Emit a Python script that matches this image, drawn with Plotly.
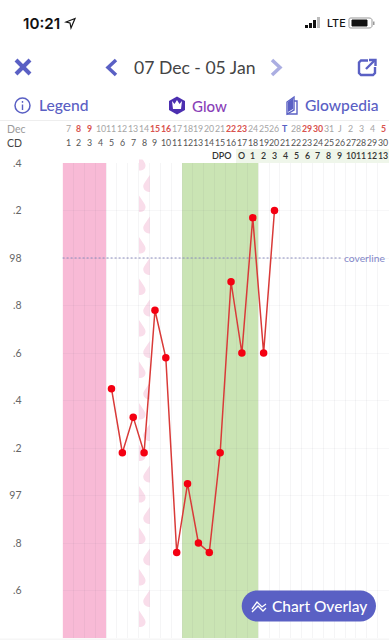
import plotly.graph_objects as go

# ---------- data ----------
cycle_days = list(range(1, 31))
date_labels = ["7","8","9","10","11","12","13","14","15","16","17","18","19","20","21","22","23","24","25","26","T","28","29","30","31","J","2","3","4","5"]
highlight_dates = ["8","9","15","16","22","23","29","30","5"]
dpo_labels = ["O","1","2","3","4","5","6","7","8","9","10","11","12","13"]
temp_days = [5,6,7,8,9,10,11,12,13,14,15,16,17,18,19,20]
temps = [97.45,97.18,97.33,97.18,97.78,97.58,96.76,97.05,96.80,96.76,97.18,97.90,97.60,98.17,97.60,98.20]
y_tickvals = [96.4,96.6,96.8,97.0,97.2,97.4,97.6,97.8,98.0,98.2,98.4]
y_ticktext = [".4",".6",".8","97",".2",".4",".6",".8","98",".2",".4"]
coverline = 98.0
period_days = (0.5, 4.5)
fertile_days = (11.5, 18.5)
spotting_day = 8
dpo_start_day = 17
title = "07 Dec - 05 Jan"

# ---------- style ----------
W, H = 389, 640
INDIGO = "#5A60C4"
FONT = "Lato, 'Open Sans', sans-serif"
X0, YTOP, YBOT = 62.6, 163, 638
def px(x): return x / W
def py(y): return 1 - y / H
def path(pts, close=True):
    s = "M" + " L".join(f"{px(a):.5f},{py(b):.5f}" for a, b in pts)
    return s + (" Z" if close else "")
def cpath(cmds):
    out = []
    for c in cmds:
        out.append(c[0] + " ".join(f"{px(c[i]):.5f},{py(c[i+1]):.5f}" for i in range(1, len(c), 2)))
    return " ".join(out) + " Z"

fig = go.Figure()
fig.add_trace(go.Scatter(x=temp_days, y=temps, mode="lines+markers", cliponaxis=False,
    line=dict(color="#D93A38", width=1.5),
    marker=dict(color="#F40012", size=7.5), hoverinfo="skip", showlegend=False))

shapes, ann = [], []
def rect(x0, y0, x1, y1, fill, layer="above"):
    shapes.append(dict(type="rect", xref="paper", yref="paper", x0=px(x0), x1=px(x1), y0=py(y0), y1=py(y1),
                       fillcolor=fill, line_width=0, layer=layer))
def shp(d, fill=None, line=None, lw=0, layer="above"):
    s = dict(type="path", xref="paper", yref="paper", path=d, layer=layer)
    s["fillcolor"] = fill if fill else "rgba(0,0,0,0)"
    s["line"] = dict(color=line if line else "rgba(0,0,0,0)", width=lw)
    shapes.append(s)
def text(x, y, t, size, color, anchor="center", weight=400, xref="paper", family=FONT):
    ann.append(dict(x=px(x) if xref == "paper" else x, y=py(y), xref=xref, yref="paper", text=t, showarrow=False,
                    xanchor=anchor, yanchor="middle", font=dict(size=size, color=color, family=family, weight=weight)))

# period + fertile bands (data coordinates)
shapes.append(dict(type="rect", xref="x", yref="paper", x0=period_days[0], x1=period_days[1],
                   y0=py(YBOT), y1=py(YTOP), fillcolor="#F8BAD6", line_width=0, layer="below"))
shapes.append(dict(type="rect", xref="x", yref="paper", x0=fertile_days[0], x1=fertile_days[1],
                   y0=py(YBOT), y1=py(YTOP), fillcolor="#CAE4B4", line_width=0, layer="below"))

# spotting column of half drops
L = 139.0; R = 149.8
for k in range(13):
    c = 160 + 41.5 * k + 2
    shp(cpath([("M", L, c-8), ("C", L+3, c-3, L+7, c+1, L+6.5, c+4), ("C", L+6, c+8, L+2, c+9, L, c+8.5)]), fill="#F9DDEA", layer="below")
    c2 = c + 22
    if c2 < 640:
        shp(cpath([("M", R, c2-9), ("C", R-3, c2-4, R-7, c2, R-6.5, c2+3), ("C", R-6, c2+7, R-2, c2+8, R, c2+8)]), fill="#F9DDEA", layer="below")

# coverline
shapes.append(dict(type="line", xref="paper", yref="y", x0=px(X0), x1=px(342), y0=coverline, y1=coverline,
                   line=dict(color="#8A8DBE", width=1, dash="2px,2px"), layer="between"))
text(388, 258, "coverline", 10.3, "#8286C8", anchor="right")

# header background + clip of top tick label
rect(0, 0, W, 159.5, "#FFFFFF")
rect(0, 120, W, 121, "#EEEEEE")
rect(236, 149, W, YTOP, "#EFF6EA")
rect(0, 638.5, W, H, "#F6F6F6")

# status bar
text(20.5, 23.5, "10:21", 15.2, "#111111", anchor="left", weight=600, family="Inter, sans-serif")
shp(path([(66,22),(75,18.5),(71,28),(70,23)]), line="#111111", lw=1.2)
for i, (hh, col) in enumerate(zip([3,5,8,11], ["#111","#111","#111","#BBB"])):
    rect(305+i*4.0, 28-hh, 308+i*4.0, 28, col)
text(324.5, 23.5, "LTE", 10.8, "#111111", anchor="left", weight=500, family="Inter, sans-serif")
shp(cpath([("M",351,18),("L",369,18),("C",371,18,372,19,372,20),("L",372,26),("C",372,27,371,28,369,28),("L",351,28),("C",349,28,349,27,349,26),("L",349,20),("C",349,19,349,18,351,18)]), line="#999999", lw=1)
shp(cpath([("M",352,20),("L",367,20),("L",367,26),("L",352,26)]), fill="#111111", line="#111111", lw=1)
rect(373, 21.5, 374.5, 25, "#999999")

# nav row
shp(path([(16,60),(30,74)], close=False), line=INDIGO, lw=4)
shp(path([(30,60),(16,74)], close=False), line=INDIGO, lw=4)
shp(path([(116,60),(108,67.5),(116,75)], close=False), line=INDIGO, lw=3.5)
shp(path([(272,60),(280,67.5),(272,75)], close=False), line="#ABAEE2", lw=3.5)
text(194, 67, title, 17.6, "#444444", family=FONT)
shp(path([(368,60.5),(361,60.5),(359,62.5),(359,73),(361,75),(373,75),(375,73),(375,67)], close=False), line=INDIGO, lw=2.4)
shp(path([(366,69),(375,60)], close=False), line=INDIGO, lw=2.4)
shp(path([(369,60),(375.5,60),(375.5,66)], close=False), line=INDIGO, lw=2.4)

# tab row
shapes.append(dict(type="circle", xref="paper", yref="paper", x0=px(15), x1=px(30), y0=py(113), y1=py(98),
                   line=dict(color=INDIGO, width=1.5), fillcolor="rgba(0,0,0,0)", layer="above"))
rect(21.8, 104.5, 23.2, 110, INDIGO)
rect(21.8, 101, 23.2, 102.8, INDIGO)
text(36.5, 105, "Legend", 15.6, INDIGO, anchor="left", weight=500)
shp(path([(177,96.5),(185,101),(185,110),(177,114.5),(169,110),(169,101)]), fill="#4C2FB0")
shp(path([(172,101),(174.5,104),(177,100),(179.5,104),(182,101),(181,109),(173,109)]), fill="#FFFFFF")
text(189.5, 106, "Glow", 15, "#8A3FB8", anchor="left", weight=500)
shp(path([(287,114),(287,102),(294,97),(294,110),(287,114)]), line=INDIGO, lw=1.4)
shp(path([(287,114),(297,114),(297,101),(294,101)], close=False), line=INDIGO, lw=1.4)
shp(path([(288,112),(288,102),(293,98),(293,109)]), fill=INDIGO)
text(302.5, 105, "Glowpedia", 15.6, INDIGO, anchor="left", weight=500)

# calendar rows, positioned on the shared x axis
text(4.5, 128.5, "Dec", 10.5, "#9A9A9A", anchor="left")
text(4.5, 142.5, "CD", 10.5, "#444444", anchor="left")
text(234, 155.5, "DPO", 9, "#333333", anchor="right", weight=600)
for d, lab in zip(cycle_days, date_labels):
    hot = lab in highlight_dates and not (lab == "5" and d < 5)
    col = "#D9534F" if hot else ("#5A60C4" if lab == "T" else "#A5A5A5")
    text(d, 128.5, lab, 8.8, col, weight=700 if hot or lab == "T" else 400, xref="x")
    text(d, 142.5, str(d), 8.8, "#555555", xref="x")
for i, lab in enumerate(dpo_labels):
    text(dpo_start_day + i, 155.5, lab, 8.8, "#333333", weight=600, xref="x")

# overlay button
bx0, bx1, by0, by1 = 241.7, 376, 590.5, 621.5
r = 15.5
shp(cpath([("M",bx0+r,by0),("L",bx1-r,by0),("C",bx1-r*0.45,by0,bx1,by0+r*0.45,bx1,by0+r),
           ("C",bx1,by1-r*0.45,bx1-r*0.45,by1,bx1-r,by1),("L",bx0+r,by1),
           ("C",bx0+r*0.45,by1,bx0,by1-r*0.45,bx0,by0+r),("C",bx0,by0+r*0.45,bx0+r*0.45,by0,bx0+r,by0)]), fill=INDIGO)
shp(path([(252,609),(257,602),(262,607),(266,604)], close=False), line="#FFFFFF", lw=1.3)
shp(path([(252,612),(258,606),(263,611),(266,608)], close=False), line="#FFFFFF", lw=1.3)
text(319.5, 606, "Chart Overlay", 15.5, "#FFFFFF", weight=500)

fig.update_layout(
    width=W, height=H, margin=dict(l=0, r=0, t=0, b=0, pad=0, autoexpand=False),
    paper_bgcolor="#FFFFFF", plot_bgcolor="#FFFFFF", showlegend=False,
    shapes=shapes, annotations=ann,
    xaxis=dict(domain=[px(X0), 1], range=[0.5, 30.54], tick0=0.5, dtick=1, showticklabels=False,
               showgrid=True, gridcolor="rgba(90,90,110,0.06)", gridwidth=1, zeroline=False, ticks=""),
    yaxis=dict(domain=[py(YBOT), py(YTOP)], range=[96.4, 98.4], tickmode="array",
               tickvals=y_tickvals, ticktext=y_ticktext, ticks="outside", ticklen=38,
               tickcolor="rgba(0,0,0,0)", tickfont=dict(size=10.5, color="#666666", family=FONT),
               showgrid=True, gridcolor="rgba(90,90,110,0.05)", gridwidth=1, zeroline=False, showline=False),
)
fig.write_html("out.html", config=dict(displayModeBar=False, staticPlot=True),
               post_script="document.body.style.margin='0';document.body.style.overflow='hidden';")
